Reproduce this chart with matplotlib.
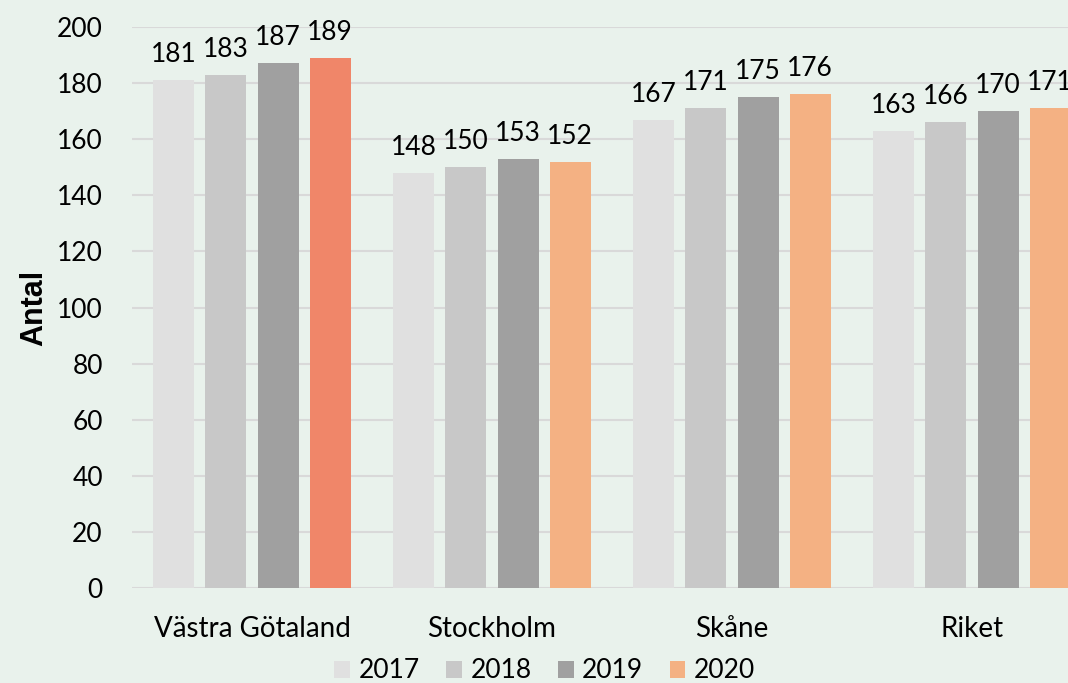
import matplotlib.pyplot as plt
import numpy as np
from matplotlib.patches import Patch

regions = ["Västra Götaland", "Stockholm", "Skåne", "Riket"]
years = ["2017", "2018", "2019", "2020"]
v2017 = [181, 148, 167, 163]
v2018 = [183, 150, 171, 166]
v2019 = [187, 153, 175, 170]
v2020 = [189, 152, 176, 171]

colors = ["#E0E0E0", "#C8C8C8", "#A0A0A0", "#F4B183"]
highlight = "#F08669"
bg = "#E9F2EC"

plt.rcParams["font.family"] = ["Lato", "DejaVu Sans"]

fig = plt.figure(figsize=(10.68, 6.83), dpi=100, facecolor=bg)
ax = fig.add_axes([132 / 1068, 95 / 683, 960 / 1068, 561 / 683])
ax.set_facecolor(bg)

x = np.arange(len(regions))
step = 0.217
width = 0.171
series = [v2017, v2018, v2019, v2020]
for i, vals in enumerate(series):
    cols = [colors[i]] * len(vals)
    if i == 3:
        cols[0] = highlight
    pos = x + (i - 1.5) * step
    ax.bar(pos, vals, width, color=cols, zorder=3)
    for p, v in zip(pos, vals):
        ax.annotate(str(v), (p, v), xytext=(0, 13), textcoords="offset points",
                    ha="center", va="baseline", fontsize=19, color="black")

ax.set_xlim(-0.5, 3.5)
ax.set_ylim(0, 200)
ax.set_yticks(range(0, 201, 20))
ax.set_xticks(x)
ax.set_xticklabels(regions)
ax.grid(axis="y", color="#D9D9D9", linewidth=1.5, zorder=0)
ax.set_axisbelow(True)
for s in ax.spines.values():
    s.set_visible(False)
ax.tick_params(axis="y", length=0, pad=21, labelsize=19)
ax.tick_params(axis="x", length=0, pad=20, labelsize=20)

ax.set_ylabel("Antal", fontsize=22, fontweight="bold", family="Liberation Sans")
ax.yaxis.set_label_coords(-0.086, 0.5)

handles = [Patch(facecolor=c, label=y) for c, y in zip(colors, years)]
fig.legend(handles=handles, loc="center", bbox_to_anchor=(0.51, 0.0176), ncol=4,
           frameon=False, fontsize=19, handlelength=0.6, handleheight=0.6,
           handletextpad=0.32, columnspacing=1.0)

fig.savefig("out.png", dpi=100, facecolor=bg)
